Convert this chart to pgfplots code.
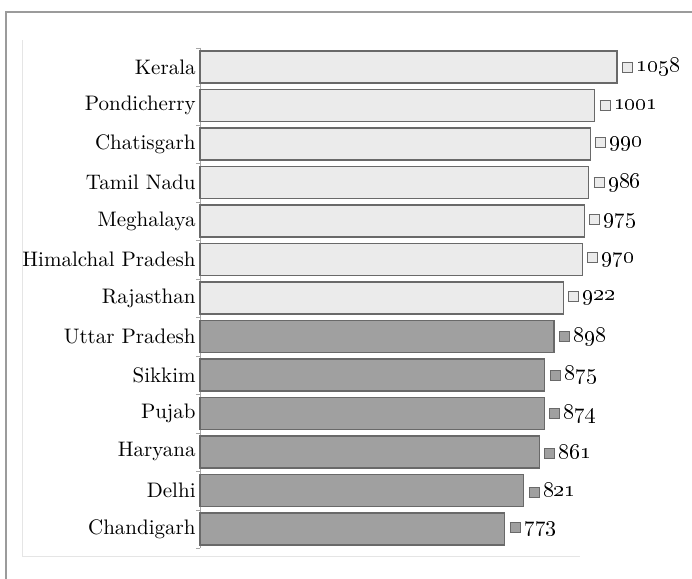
\documentclass[border=0pt]{standalone}
\usepackage{pgfplots}
\pgfplotsset{compat=1.18}
\definecolor{lightbar}{RGB}{235,235,235}
\definecolor{darkbar}{RGB}{160,160,160}
\definecolor{baredge}{RGB}{105,105,105}
\definecolor{framegray}{RGB}{155,155,155}
\newcommand\sq[1]{{\setlength\fboxsep{0pt}\setlength\fboxrule{0.5pt}\fcolorbox{baredge}{#1}{\rule{0pt}{4.5pt}\rule{4.5pt}{0pt}}}}
\begin{document}
\begin{tikzpicture}[x=1pt,y=1pt,font=\fontsize{10.5}{12.5}\selectfont]
\path[use as bounding box] (0,0) rectangle (346,289.5);
\draw[framegray,line width=1pt] (3,-5) rectangle (352,283.5);
\draw[black!10,line width=0.5pt] (11,269.5) -- (11,11) -- (290,11);
\begin{axis}[
  at={(100pt,15.4pt)}, anchor=south west,
  scale only axis, width=208.5pt, height=250.25pt,
  xmin=0, xmax=1058, ymin=-0.5, ymax=12.5, y dir=reverse,
  xbar, bar width=0.83, bar shift=0pt,
  axis x line=none, axis y line*=left,
  axis line style={black!35},
  ytick={0,...,12},
  yticklabels={Kerala,Pondicherry,Chatisgarh,Tamil Nadu,Meghalaya,Himalchal Pradesh,Rajasthan,Uttar Pradesh,Sikkim,Pujab,Haryana,Delhi,Chandigarh},
  major tick length=0pt,
  minor ytick={-0.5,0.5,...,12.5},
  minor tick length=2pt, tick align=outside,
  minor tick style={black!35},
  yticklabel style={inner sep=2pt},
  clip=false,
  /pgf/number format/1000 sep={},
  /pgf/number format/assume math mode=true,
  nodes near coords align=horizontal,
  every node near coord/.append style={anchor=west, inner sep=2.2pt, black, font=\fontsize{10.5}{12.5}\selectfont},
]
\addplot[xbar, fill=lightbar, draw=baredge, line width=0.6pt,
  nodes near coords={\sq{lightbar}\,\oldstylenums{\pgfmathprintnumber{\pgfplotspointmeta}}}]
  coordinates {(1058,0) (1001,1) (990,2) (986,3) (975,4) (970,5) (922,6)};
\addplot[xbar, fill=darkbar, draw=baredge, line width=0.6pt,
  nodes near coords={\sq{darkbar}\,\oldstylenums{\pgfmathprintnumber{\pgfplotspointmeta}}}]
  coordinates {(898,7) (875,8) (874,9) (861,10) (821,11) (773,12)};
\end{axis}
\end{tikzpicture}
\end{document}
